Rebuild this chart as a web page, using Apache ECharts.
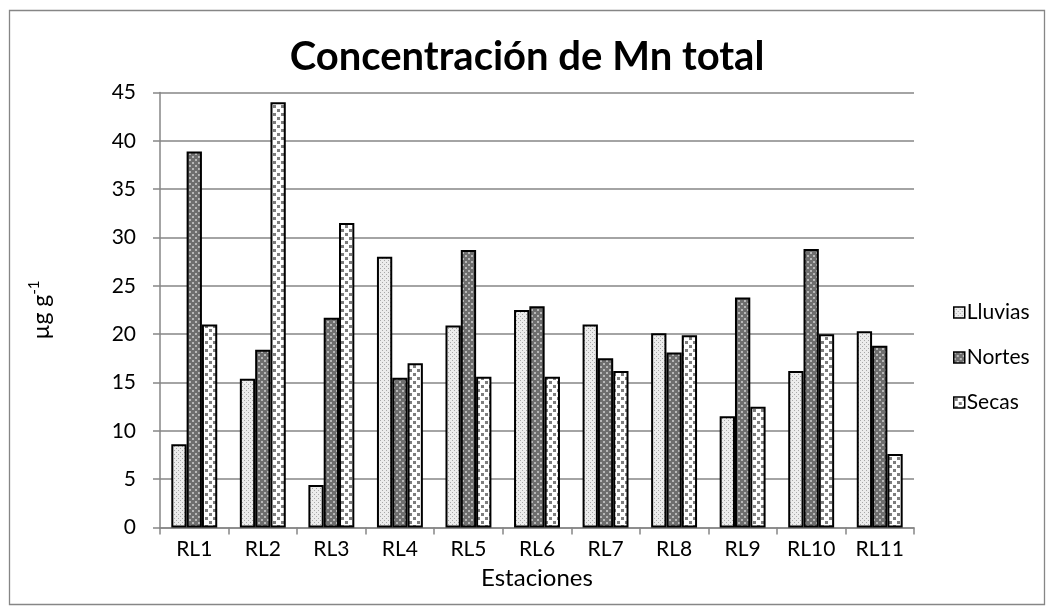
<!DOCTYPE html>
<html><head><meta charset="utf-8">
<script src="https://cdn.jsdelivr.net/npm/echarts@6/dist/echarts.min.js"></script>
<style>html,body{margin:0;padding:0;background:#fff}#c{width:1054px;height:613px}</style>
</head><body><div id="c"></div>
<script>
const categories = ['RL1','RL2','RL3','RL4','RL5','RL6','RL7','RL8','RL9','RL10','RL11'];
const lluvias = [8.6, 15.4, 4.4, 28.0, 20.9, 22.5, 21.0, 20.1, 11.5, 16.2, 20.3];
const nortes  = [38.9, 18.4, 21.7, 15.5, 28.7, 22.9, 17.5, 18.1, 23.8, 28.8, 18.8];
const secas   = [21.0, 44.0, 31.5, 17.0, 15.6, 15.6, 16.2, 19.9, 12.5, 20.0, 7.6];
const yTicks = [0,5,10,15,20,25,30,35,40,45];

function pat(size, bg, fg, cells){
  const c = document.createElement('canvas'); c.width = size; c.height = size;
  const g = c.getContext('2d'); g.fillStyle = bg; g.fillRect(0,0,size,size);
  g.fillStyle = fg; cells.forEach(r => g.fillRect(r[0], r[1], r[2], r[3]));
  return {image: c, repeat: 'repeat'};
}
const pL = pat(4, '#ececec', '#a8a8a8', [[0,0,1,1],[2,2,1,1]]);
const pN = pat(6, '#6e6e6e', '#b8b8b8', [[0,0,2,2],[3,3,2,2]]);
const pS = pat(8, '#ffffff', '#7e7e7e', [[1,1,3,3],[5,5,3,3]]);

const font = 'Lato, "Liberation Sans", sans-serif';
const chart = echarts.init(document.getElementById('c'));
const mk = (name, data, p) => ({
  name, type: 'bar', data, barGap: '0%', barCategoryGap: '33%',
  itemStyle: {color: p, borderColor: '#000', borderWidth: 2},
  emphasis: {disabled: true}
});
chart.setOption({
  animation: false,
  graphic: [{type: 'rect', shape: {x: 9.5, y: 10.5, width: 1035, height: 594}, style: {fill: 'none', stroke: '#868686', lineWidth: 1.3}, z: -1}],
  title: {text: 'Concentración de Mn total', left: 'center', top: 32,
    textStyle: {fontFamily: font, fontWeight: 'bold', fontSize: 40, color: '#000'}},
  legend: {orient: 'vertical', left: 948, top: 297, itemWidth: 11, itemHeight: 11, itemGap: 24, icon: 'rect',
    itemStyle: {borderColor: '#000', borderWidth: 1.5},
    textStyle: {fontFamily: font, fontSize: 21, color: '#000', padding: [0,0,0,-3]},
    data: ['Lluvias','Nortes','Secas']},
  grid: {left: 160, right: 140, top: 92.5, bottom: 85.5},
  xAxis: {type: 'category', data: categories,
    name: 'Estaciones', nameLocation: 'middle', nameGap: 39,
    nameTextStyle: {fontFamily: font, fontSize: 24, color: '#000'},
    axisLine: {lineStyle: {color: '#868686', width: 1.5}},
    axisTick: {show: true, length: 7, lineStyle: {color: '#868686', width: 1.5}},
    axisLabel: {fontFamily: font, fontSize: 21, color: '#000', margin: 11}},
  yAxis: {type: 'value', min: 0, max: 45, interval: 5,
    name: '{a|µg g}{s|-1}', nameLocation: 'middle', nameGap: 104, nameRotate: 90,
    nameTextStyle: {rich: {a: {fontFamily: font, fontSize: 23, color: '#000'}, s: {fontFamily: font, fontSize: 15, color: '#000', padding: [0,0,14,0]}}},
    axisLine: {show: true, lineStyle: {color: '#868686', width: 1.5}},
    axisTick: {show: true, length: 7, lineStyle: {color: '#868686', width: 1.5}},
    splitLine: {lineStyle: {color: '#868686', width: 1.5}},
    axisLabel: {fontFamily: font, fontSize: 21, color: '#000', margin: 24,
      formatter: v => yTicks.includes(v) ? String(v) : ''}},
  series: [mk('Lluvias', lluvias, pL), mk('Nortes', nortes, pN), mk('Secas', secas, pS)]
});
</script></body></html>
